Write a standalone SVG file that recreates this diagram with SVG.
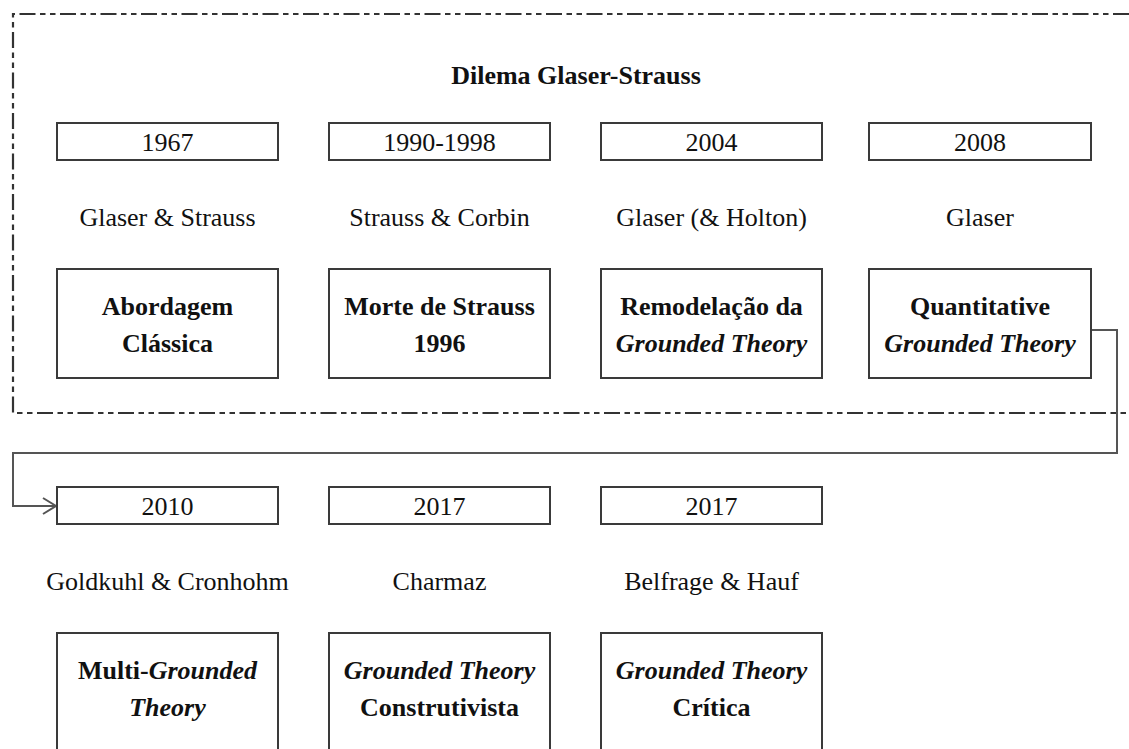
<svg xmlns="http://www.w3.org/2000/svg" width="1129" height="749" viewBox="0 0 1129 749">
<style>
text{font-family:"Liberation Serif","Times New Roman",serif;font-size:26px;fill:#111;text-anchor:middle}
.b{font-weight:bold}
.i{font-style:italic}
.box{fill:#fff;stroke:#3a3a3a;stroke-width:2}
.frame{fill:none;stroke:#333;stroke-width:2.2;stroke-dasharray:16 4.5 5.5 4.5 5.5 4.5}
.conn{fill:none;stroke:#555;stroke-width:2}
</style>
<defs>
<marker id="arr" markerWidth="16" markerHeight="18" refX="14" refY="9" orient="auto" markerUnits="userSpaceOnUse">
<path d="M1,1 L14,9 L1,17" fill="none" stroke="#555" stroke-width="2"/>
</marker>
</defs>
<path class="frame" d="M1129,14 H13 V413 H1129"/>
<text id="title" class="b" x="576" y="84">Dilema Glaser-Strauss</text>
<g id="connectors">
<path class="conn" d="M1091,330 H1117 V453 H13 V506 H56" marker-end="url(#arr)"/>
</g>
<g id="n1967">
<rect class="box" x="57" y="123" width="221" height="37"/>
<text x="167.5" y="151">1967</text>
<text x="167.5" y="226">Glaser &amp; Strauss</text>
<rect class="box" x="57" y="269" width="221" height="109"/>
<text class="b" x="167.5" y="315">Abordagem</text>
<text class="b" x="167.5" y="352">Clássica</text>
</g>
<g id="n1990">
<rect class="box" x="329" y="123" width="221" height="37"/>
<text x="439.5" y="151">1990-1998</text>
<text x="439.5" y="226">Strauss &amp; Corbin</text>
<rect class="box" x="329" y="269" width="221" height="109"/>
<text class="b" x="439.5" y="315">Morte de Strauss</text>
<text class="b" x="439.5" y="352">1996</text>
</g>
<g id="n2004">
<rect class="box" x="601" y="123" width="221" height="37"/>
<text x="711.5" y="151">2004</text>
<text x="711.5" y="226">Glaser (&amp; Holton)</text>
<rect class="box" x="601" y="269" width="221" height="109"/>
<text class="b" x="711.5" y="315">Remodelação da</text>
<text class="b i" x="711.5" y="352">Grounded Theory</text>
</g>
<g id="n2008">
<rect class="box" x="869" y="123" width="222" height="37"/>
<text x="980" y="151">2008</text>
<text x="980" y="226">Glaser</text>
<rect class="box" x="869" y="269" width="222" height="109"/>
<text class="b" x="980" y="315">Quantitative</text>
<text class="b i" x="980" y="352">Grounded Theory</text>
</g>
<g id="n2010">
<rect class="box" x="57" y="487" width="221" height="37"/>
<text x="167.5" y="515">2010</text>
<text x="167.5" y="590">Goldkuhl &amp; Cronhohm</text>
<rect class="box" x="57" y="633" width="221" height="140"/>
<text class="b" x="167.5" y="679">Multi-<tspan class="i">Grounded</tspan></text>
<text class="b i" x="167.5" y="716">Theory</text>
</g>
<g id="n2017a">
<rect class="box" x="329" y="487" width="221" height="37"/>
<text x="439.5" y="515">2017</text>
<text x="439.5" y="590">Charmaz</text>
<rect class="box" x="329" y="633" width="221" height="140"/>
<text class="b i" x="439.5" y="679">Grounded Theory</text>
<text class="b" x="439.5" y="716">Construtivista</text>
</g>
<g id="n2017b">
<rect class="box" x="601" y="487" width="221" height="37"/>
<text x="711.5" y="515">2017</text>
<text x="711.5" y="590">Belfrage &amp; Hauf</text>
<rect class="box" x="601" y="633" width="221" height="140"/>
<text class="b i" x="711.5" y="679">Grounded Theory</text>
<text class="b" x="711.5" y="716">Crítica</text>
</g>
</svg>
